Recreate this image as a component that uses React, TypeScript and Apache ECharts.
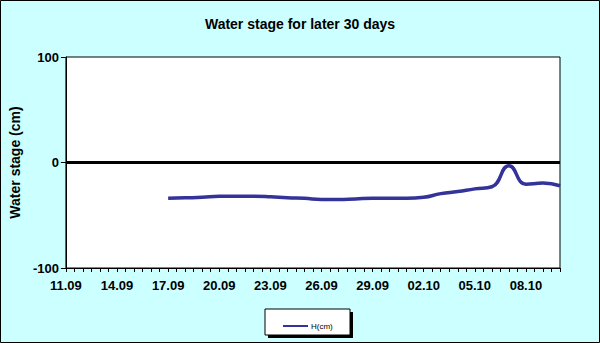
import React, { useEffect, useRef } from "react";
import * as echarts from "echarts";

const axisDays = [
  "11.09", "12.09", "13.09", "14.09", "15.09", "16.09", "17.09", "18.09", "19.09", "20.09",
  "21.09", "22.09", "23.09", "24.09", "25.09", "26.09", "27.09", "28.09", "29.09", "30.09",
  "01.10", "02.10", "03.10", "04.10", "05.10", "06.10", "07.10", "08.10", "09.10", "10.10",
];

const seriesDates = [
  "17.09", "18.09", "19.09", "20.09", "21.09", "22.09", "23.09", "24.09", "25.09", "26.09",
  "27.09", "28.09", "29.09", "30.09", "01.10", "02.10", "03.10", "04.10", "05.10", "06.10",
  "07.10", "08.10", "09.10", "10.10",
];

const hValues = [
  -34, -33.5, -33, -32, -32, -32, -32.5, -33.5, -34, -35,
  -35, -34.5, -34, -34, -34, -33, -29.5, -27.5, -25, -23,
  -3, -20.5, -19.5, -22,
];

const yTicks = [-100, 0, 100];

export default function App() {
  const ref = useRef<HTMLDivElement>(null);
  useEffect(() => {
    document.body.style.margin = "0";
    const chart = echarts.init(ref.current!, null, { renderer: "svg" });
    const data = seriesDates.map((d, i) => [axisDays.indexOf(d), hValues[i]]);
    const font = "Liberation Sans, Arial, sans-serif";
    chart.setOption({
      animation: false,
      backgroundColor: "#CCFFFF",
      textStyle: { fontFamily: font },
      title: {
        text: "Water stage for later 30 days",
        left: "center",
        top: 12,
        textStyle: { fontSize: 14, fontWeight: "bold", color: "#000", fontFamily: font },
      },
      grid: {
        left: 64,
        top: 57,
        right: 40,
        bottom: 75,
        show: true,
        backgroundColor: "#fff",
        borderColor: "#000",
        borderWidth: 1,
      },
      xAxis: {
        type: "value",
        min: 0,
        max: axisDays.length - 1,
        interval: 0.5,
        splitLine: { show: false },
        axisLine: { show: true, onZero: false, lineStyle: { color: "#000", width: 1 } },
        axisTick: { show: true, length: 4, lineStyle: { color: "#000" } },
        axisLabel: {
          margin: 11,
          fontSize: 13,
          fontWeight: "bold",
          color: "#000",
          showMaxLabel: true,
          formatter: (v: number) => (Number.isInteger(v) && v % 3 === 0 ? axisDays[v] : ""),
        },
      },
      yAxis: {
        type: "value",
        min: yTicks[0],
        max: yTicks[yTicks.length - 1],
        interval: 100,
        name: "Water stage (cm)",
        nameLocation: "middle",
        nameGap: 42,
        nameTextStyle: { fontSize: 14, fontWeight: "bold", color: "#000" },
        splitLine: { show: false },
        axisLine: { show: true, lineStyle: { color: "#000", width: 1 } },
        axisTick: { show: true, length: 5, lineStyle: { color: "#000" } },
        axisLabel: { margin: 7, fontSize: 13, fontWeight: "bold", color: "#000" },
      },
      legend: {
        left: 278,
        top: 317,
        itemWidth: 25,
        itemHeight: 2,
        itemGap: 4,
        icon: "rect",
        textStyle: { fontSize: 8, color: "#000", padding: [0, 0, 0, -2] },
        data: ["H(cm)"],
      },
      graphic: [
        { type: "rect", shape: { x: 268, y: 312, width: 85, height: 26 }, style: { fill: "#000" }, z: 0 },
        { type: "rect", shape: { x: 265, y: 309, width: 85, height: 26 }, style: { fill: "#fff", stroke: "#000", lineWidth: 1 }, z: 1 },
        { type: "rect", shape: { x: 0.5, y: 0.5, width: 599, height: 342 }, style: { fill: "none", stroke: "#000", lineWidth: 1 }, z: 10 },
      ],
      series: [
        {
          name: "H(cm)",
          type: "line",
          data,
          smooth: 0.5,
          symbol: "none",
          lineStyle: { color: "#333399", width: 3.5 },
          itemStyle: { color: "#333399" },
          z: 3,
          markLine: {
            silent: true,
            symbol: "none",
            label: { show: false },
            lineStyle: { color: "#000", width: 3, type: "solid" },
            data: [{ yAxis: 0 }],
            z: 2,
          },
        },
      ],
    });
    return () => chart.dispose();
  }, []);
  return <div ref={ref} style={{ width: 600, height: 343 }} />;
}
